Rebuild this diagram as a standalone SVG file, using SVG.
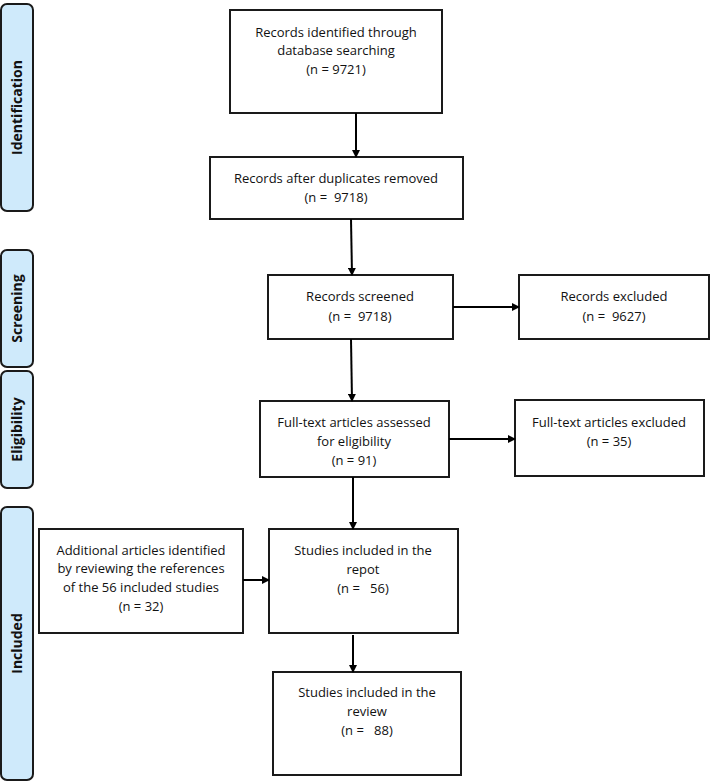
<svg xmlns="http://www.w3.org/2000/svg" width="710" height="782" viewBox="0 0 710 782">
<defs>
<marker id="ah" markerWidth="8" markerHeight="8" refX="7" refY="4" orient="auto" markerUnits="userSpaceOnUse"><path d="M0,0 L8,4 L0,8 Z" fill="#000"/></marker>
</defs>
<style>
.box{fill:#fff;stroke:#1a1a1a;stroke-width:2}
.side{fill:#cfeafb;stroke:#1a1a1a;stroke-width:2}
.t{font-family:"Open Sans","Liberation Sans",sans-serif;font-size:13px;fill:#111;text-anchor:middle}
.s{font-family:"Open Sans","Liberation Sans",sans-serif;font-size:14px;font-weight:bold;fill:#111;text-anchor:middle}
.c{stroke:#000;stroke-width:2;fill:none;marker-end:url(#ah)}
</style>
<rect width="710" height="782" fill="#fff"/>
<g id="phase-identification"><rect class="side" x="1" y="4" width="32" height="207" rx="6"/><text class="s" transform="translate(22,107.5) rotate(-90)">Identification</text></g>
<g id="phase-screening"><rect class="side" x="1" y="250" width="32" height="117" rx="6"/><text class="s" transform="translate(22,308.5) rotate(-90)">Screening</text></g>
<g id="phase-eligibility"><rect class="side" x="1" y="371" width="32" height="117" rx="6"/><text class="s" transform="translate(22,429.5) rotate(-90)">Eligibility</text></g>
<g id="phase-included"><rect class="side" x="1" y="507" width="32" height="273" rx="6"/><text class="s" transform="translate(22,643.5) rotate(-90)">Included</text></g>

<g id="identified"><rect class="box" x="230" y="10" width="212" height="103"/>
<text class="t" x="336" y="37">Records identified through</text>
<text class="t" x="336" y="55">database searching</text>
<text class="t" x="336" y="74">(n = 9721)</text></g>
<g id="dedup"><rect class="box" x="210" y="157" width="253" height="62"/>
<text class="t" x="336" y="183">Records after duplicates removed</text>
<text class="t" x="336" y="202" xml:space="preserve">(n =  9718)</text></g>
<g id="screened"><rect class="box" x="268" y="275" width="185" height="64"/>
<text class="t" x="360" y="301">Records screened</text>
<text class="t" x="360" y="321" xml:space="preserve">(n =  9718)</text></g>
<g id="excluded"><rect class="box" x="519" y="275" width="190" height="64"/>
<text class="t" x="614" y="301">Records excluded</text>
<text class="t" x="614" y="321" xml:space="preserve">(n =  9627)</text></g>
<g id="assessed"><rect class="box" x="260" y="401" width="189" height="76"/>
<text class="t" x="354" y="427">Full-text articles assessed</text>
<text class="t" x="354" y="446">for eligibility</text>
<text class="t" x="354" y="465">(n = 91)</text></g>
<g id="ft-excluded"><rect class="box" x="515" y="400" width="189" height="76"/>
<text class="t" x="609" y="427">Full-text articles excluded</text>
<text class="t" x="609" y="446">(n = 35)</text></g>
<g id="additional"><rect class="box" x="39" y="529" width="204" height="104"/>
<text class="t" x="141" y="555">Additional articles identified</text>
<text class="t" x="141" y="573">by reviewing the references</text>
<text class="t" x="141" y="592">of the 56 included studies</text>
<text class="t" x="141" y="611">(n = 32)</text></g>
<g id="report"><rect class="box" x="269" y="529" width="189" height="104"/>
<text class="t" x="363" y="555">Studies included in the</text>
<text class="t" x="363" y="574">repot</text>
<text class="t" x="363" y="593" xml:space="preserve">(n =   56)</text></g>
<g id="review"><rect class="box" x="273" y="672" width="188" height="103"/>
<text class="t" x="367" y="697">Studies included in the</text>
<text class="t" x="367" y="716">review</text>
<text class="t" x="367" y="735" xml:space="preserve">(n =   88)</text></g>

<g id="connectors">
<path class="c" d="M356,113 V157"/>
<path class="c" d="M351,219 L352,275"/>
<path class="c" d="M453,307 H519"/>
<path class="c" d="M351,339 L352,401"/>
<path class="c" d="M449,439 H515"/>
<path class="c" d="M353,477 V529"/>
<path class="c" d="M243,580 H269"/>
<path class="c" d="M353,635 V672"/>
</g>
</svg>
